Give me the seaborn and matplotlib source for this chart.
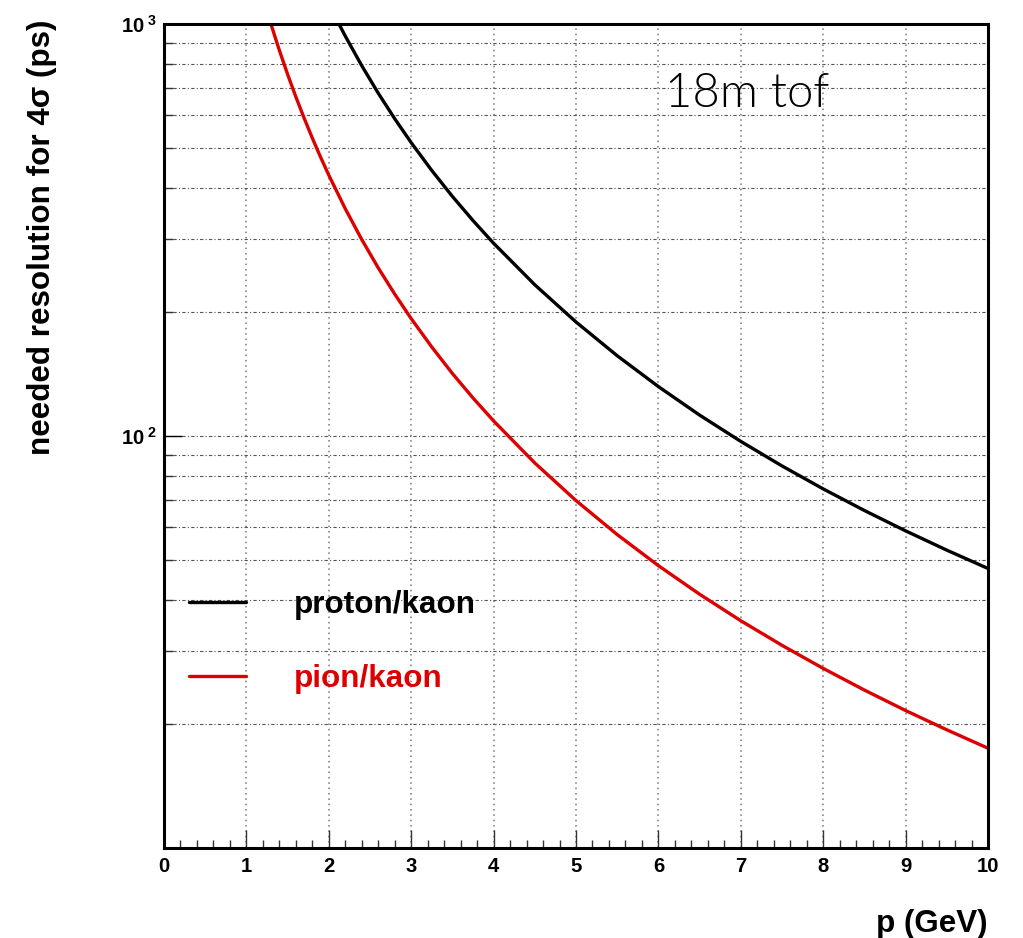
import numpy as np
import pandas as pd
import matplotlib
matplotlib.use("Agg")
import matplotlib.pyplot as plt
import seaborn as sns
from matplotlib.ticker import FixedLocator, MultipleLocator, NullFormatter, FuncFormatter

# Time-of-flight resolution needed for 4-sigma separation over an 18 m flight path
pairs = ["proton/kaon", "pion/kaon"]
colors = ["#000000", "#dd0000"]

p_proton_kaon = [2.1, 2.2, 2.4, 2.6, 2.8, 3.0, 3.25, 3.5, 3.75, 4.0, 4.5, 5.0, 5.5,
                 6.0, 6.5, 7.0, 7.5, 8.0, 8.5, 9.0, 9.5, 10.0]
res_proton_kaon = [1020.8, 934.8, 792.0, 679.3, 588.8, 515.1, 440.8, 381.4, 333.2, 293.5,
                   232.7, 189.0, 156.5, 131.7, 112.3, 96.95, 84.52, 74.33, 65.88, 58.79,
                   52.78, 47.64]

p_pion_kaon = [1.25, 1.3, 1.4, 1.5, 1.6, 1.7, 1.8, 1.9, 2.0, 2.2, 2.4, 2.6, 2.8, 3.0,
               3.25, 3.5, 3.75, 4.0, 4.5, 5.0, 5.5, 6.0, 6.5, 7.0, 7.5, 8.0, 8.5, 9.0,
               9.5, 10.0]
res_pion_kaon = [1074.8, 996.4, 863.2, 754.9, 665.6, 591.2, 528.5, 475.2, 429.6, 356.0,
                 299.7, 255.8, 220.9, 192.6, 164.3, 141.7, 123.6, 108.7, 85.93, 69.64,
                 57.58, 48.40, 41.25, 35.57, 31.00, 27.25, 24.14, 21.53, 19.33, 17.44]

x_limits = [0, 10]
y_limits = [10, 1000]
y_major = [100, 1000]
y_minor = [20, 30, 40, 50, 60, 70, 80, 90, 200, 300, 400, 500, 600, 700, 800, 900]

df = pd.concat([
    pd.DataFrame({"p": p_proton_kaon, "res": res_proton_kaon, "pair": pairs[0]}),
    pd.DataFrame({"p": p_pion_kaon, "res": res_pion_kaon, "pair": pairs[1]}),
], ignore_index=True)

sns.set_style("white")
plt.rcParams["font.family"] = ["Liberation Sans", "DejaVu Sans"]
plt.rcParams["font.weight"] = "bold"
plt.rcParams["text.color"] = "black"
plt.rcParams["axes.labelcolor"] = "black"
plt.rcParams["xtick.color"] = "black"
plt.rcParams["ytick.color"] = "black"
plt.rcParams["mathtext.fontset"] = "custom"
plt.rcParams["mathtext.rm"] = "Liberation Sans:bold"
plt.rcParams["mathtext.bf"] = "Liberation Sans:bold"
plt.rcParams["mathtext.it"] = "Liberation Sans:bold"

fig = plt.figure(figsize=(10.23, 9.38), dpi=100)
fig.patch.set_facecolor("white")
ax = fig.add_axes([164 / 1023, 1 - 847.7 / 938, 824 / 1023, 823.7 / 938])

sns.lineplot(data=df, x="p", y="res", hue="pair", hue_order=pairs,
             palette=dict(zip(pairs, colors)), estimator=None, sort=True,
             linewidth=2.4, ax=ax)

ax.set_yscale("log")
ax.set_xlim(*x_limits)
ax.set_ylim(*y_limits)

# axis ticks
ax.xaxis.set_major_locator(MultipleLocator(1))
ax.xaxis.set_minor_locator(MultipleLocator(0.2))
ax.yaxis.set_major_locator(FixedLocator(y_major))
ax.yaxis.set_minor_locator(FixedLocator(y_minor))
ax.yaxis.set_major_formatter(
    FuncFormatter(lambda v, pos: r"$10^{\ %d}$" % int(round(np.log10(v)))))
ax.yaxis.set_minor_formatter(NullFormatter())

ax.tick_params(axis="x", which="major", direction="in", length=12.7, width=1,
               labelsize=14.6, pad=7, top=False, bottom=True, labelcolor="black",
               color="#333333")
ax.tick_params(axis="x", which="minor", direction="in", length=6, width=1,
               top=False, bottom=True, color="#333333")
ax.tick_params(axis="y", which="major", direction="in", length=13, width=1,
               labelsize=14.6, pad=5, left=True, right=False, labelcolor="black",
               color="#000000")
ax.tick_params(axis="y", which="minor", direction="in", length=6.5, width=1,
               left=True, right=False, color="#333333")

for s in ax.spines.values():
    s.set_visible(True)
    s.set_linewidth(2.2)
    s.set_color("black")

# grid
ax.grid(False)
ax.xaxis.grid(True, which="major", linestyle=(0, (1, 2.5)), color="#777777", linewidth=1.1)
ax.yaxis.grid(True, which="both", linestyle=(0, (3, 2, 1, 2)), color="#555555", linewidth=0.8)

# axis titles
ax.set_xlabel("p (GeV)", fontsize=22.6, fontweight="bold", loc="right", color="black")
ax.xaxis.set_label_coords(1.0, -0.0745)
ax.set_ylabel("needed resolution for 4σ (ps)", fontsize=22.6, fontweight="bold",
              loc="top", color="black")
ax.yaxis.set_label_coords(-0.130, 1.005)

ax.text(6.08, 628, "18m tof", fontsize=34, fontweight=300,
        family=["Lato", "DejaVu Sans"], color="black", ha="left", va="baseline")

sns.move_legend(ax, "center left", bbox_to_anchor=(0.0303, 0.2497), frameon=False,
                title=None, fontsize=22.6, handlelength=1.83, handletextpad=1.5,
                labelspacing=1.43, borderpad=0, borderaxespad=0, labelcolor="linecolor")

fig.savefig("out.png", dpi=100, facecolor="white")
